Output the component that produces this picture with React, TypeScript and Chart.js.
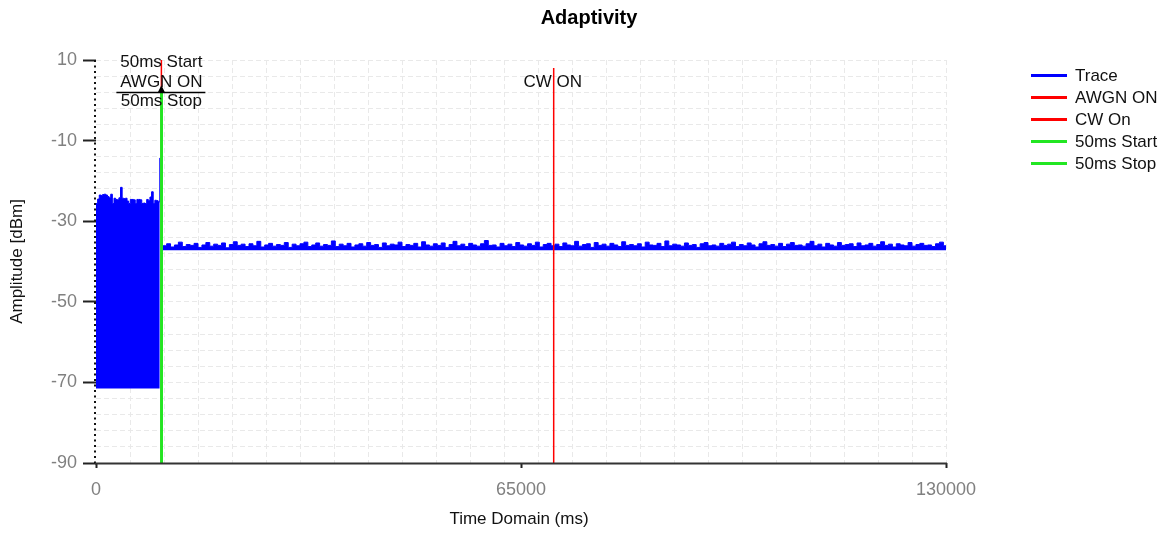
import React, { useEffect, useRef } from "react";
import { Chart, registerables } from "chart.js";

Chart.register(...registerables);

// ---------- text ----------
const TITLE = "Adaptivity";
const X_TITLE = "Time Domain (ms)";
const Y_TITLE = "Amplitude [dBm]";

// ---------- axes ----------
const X_MIN = 0;
const X_MAX = 130000;
const Y_MIN = -90;
const Y_MAX = 10;
const X_TICK_LABELS = [0, 65000, 130000];
const Y_TICK_LABELS = [10, -10, -30, -50, -70, -90];
const X_GRID_STEP_MS = 5200;
const Y_GRID_STEP_DBM = 4;

// ---------- trace ----------
const TRACE_LABEL = "Trace";
// before AWGN: dense trace, upper envelope (dBm) sampled every PRE_STEP_MS, bottom at PRE_FLOOR_DBM
const PRE_START_MS = 0;
const PRE_STEP_MS = 250;
const PRE_TOP_DBM = [
  -25.6, -24.5, -23.5, -23.6, -23.4, -23.3, -23.5, -23.9, -24.2, -23.3,
  -25.6, -24.3, -24.6, -24.7, -24.2, -21.6, -24.3, -24.4, -24.3, -25.0,
  -25.6, -24.6, -24.6, -24.7, -25.6, -24.6, -24.6, -24.7, -25.6, -25.5,
  -25.6, -24.6, -24.9, -24.0, -22.7, -25.6, -24.8, -24.9, -25.2, -14.3,
];
const PRE_FLOOR_DBM = -71.5;
// after AWGN: trace level (dBm) sampled every POST_STEP_MS, bottom at POST_FLOOR_DBM
const POST_START_MS = 10200;
const POST_STEP_MS = 600;
const POST_DBM = [
  -36.1, -35.6, -36.4, -35.9, -35.2, -36.3, -35.8, -36.0, -35.5, -36.5, -35.9, -35.3, -36.2, -35.7, -36.0, -35.4, -36.6, -35.8, -35.1, -36.0,
  -35.7, -36.3, -35.6, -36.1, -35.0, -36.4, -35.9, -35.5, -36.2, -35.8, -36.0, -35.3, -36.5, -35.7, -36.1, -35.6, -35.2, -36.3, -35.9, -35.4,
  -36.2, -35.8, -36.0, -34.9, -36.3, -35.7, -36.1, -35.5, -36.4, -35.9, -35.6, -36.2, -35.3, -36.0, -35.8, -36.5, -35.4, -36.1, -35.7, -35.9,
  -35.2, -36.3, -35.8, -36.0, -35.5, -36.4, -35.1, -35.9, -36.2, -35.6, -36.0, -35.4, -36.5, -35.8, -35.0, -36.1, -35.7, -36.3, -35.5, -35.9,
  -36.2, -35.6, -34.8, -36.0, -35.9, -36.4, -35.5, -36.1, -35.7, -36.3, -35.3, -35.9, -36.2, -35.6, -36.0, -35.2, -36.4, -35.8, -35.5, -36.1,
  -35.7, -36.3, -35.4, -35.9, -36.1, -35.0, -36.2, -35.8, -35.6, -36.5, -35.3, -36.0, -35.7, -36.2, -35.5, -35.9, -36.3, -35.1, -36.0, -35.8,
  -36.1, -35.6, -36.4, -35.2, -35.9, -36.0, -35.5, -36.3, -34.9, -36.1, -35.7, -35.9, -36.2, -35.4, -36.0, -35.8, -36.5, -35.6, -35.3, -36.1,
  -35.9, -36.2, -35.5, -36.0, -35.7, -35.2, -36.3, -35.8, -36.1, -35.4, -35.9, -36.4, -35.6, -35.1, -36.0, -35.8, -36.2, -35.5, -36.3, -35.7,
  -35.3, -36.0, -35.9, -36.2, -35.6, -35.0, -36.1, -35.7, -36.4, -35.5, -35.9, -36.2, -35.3, -36.0, -35.8, -35.6, -36.3, -35.4, -36.1, -35.9,
  -35.5, -36.2, -35.8, -35.1, -36.0, -35.7, -36.4, -35.6, -35.9, -36.1, -35.3, -36.2, -35.8, -35.5, -36.0, -35.9, -36.3, -35.6, -35.2, -36.1,
  -35.8,
];
const POST_FLOOR_DBM = -37.2;

// ---------- event markers ----------
const MARKER_LABELS = ["AWGN ON", "CW On", "50ms Start", "50ms Stop"];
const MARKER_MS = [10000, 70000, 10000, 10050];
const MARKER_TOP_DBM = [10, 8, 2, 2];
const ANNOT_START = "50ms Start";
const ANNOT_AWGN = "AWGN ON";
const ANNOT_STOP = "50ms Stop";
const ANNOT_CW = "CW ON";

// ---------- styles ----------
const BLUE = "#0000ff";
const RED = "#ff0000";
const GREEN = "#22e622";
const GRID = "#e9e9e9";
const TICK_TEXT = "#808080";
const FONT = "'Liberation Sans', Arial, sans-serif";

const W = 1169;
const H = 534;

const toXY = (start: number, step: number, vals: number[]) =>
  vals.map((v, i) => ({ x: start + i * step, y: v }));

const overlay = {
  id: "overlay",
  beforeDatasetsDraw(chart: any) {
    const { ctx, chartArea: ca, scales } = chart;
    const xs = scales.x;
    ctx.save();
    ctx.strokeStyle = GRID;
    ctx.lineWidth = 1;
    ctx.setLineDash([5, 3]);
    for (let v = X_MIN + X_GRID_STEP_MS; v <= X_MAX + 1; v += X_GRID_STEP_MS) {
      const px = Math.round(xs.getPixelForValue(v)) + 0.5;
      ctx.beginPath();
      ctx.moveTo(px, ca.top);
      ctx.lineTo(px, ca.bottom);
      ctx.stroke();
    }
    ctx.restore();
  },
  afterDatasetsDraw(chart: any) {
    const { ctx, chartArea: ca, scales } = chart;
    const xs = scales.x;
    const ys = scales.y;
    ctx.save();
    // dotted y axis
    ctx.strokeStyle = "#111";
    ctx.lineWidth = 2;
    ctx.setLineDash([2, 3.5]);
    ctx.beginPath();
    ctx.moveTo(ca.left - 1, ca.top);
    ctx.lineTo(ca.left - 1, ca.bottom);
    ctx.stroke();
    ctx.setLineDash([]);
    // solid x axis
    ctx.strokeStyle = "#333";
    ctx.lineWidth = 2;
    ctx.beginPath();
    ctx.moveTo(ca.left - 1, ca.bottom + 0.5);
    ctx.lineTo(ca.right + 1, ca.bottom + 0.5);
    ctx.stroke();

    // annotations
    const gx = xs.getPixelForValue(MARKER_MS[2]);
    const gy = ys.getPixelForValue(MARKER_TOP_DBM[2]);
    ctx.strokeStyle = "#000";
    ctx.lineWidth = 1.5;
    ctx.beginPath();
    ctx.moveTo(gx - 45, gy + 0.25);
    ctx.lineTo(gx + 44, gy + 0.25);
    ctx.stroke();
    ctx.fillStyle = "#000";
    ctx.beginPath();
    ctx.moveTo(gx, gy - 7);
    ctx.lineTo(gx - 3.5, gy);
    ctx.lineTo(gx + 3.5, gy);
    ctx.closePath();
    ctx.fill();

    ctx.font = `17px ${FONT}`;
    ctx.textAlign = "center";
    ctx.textBaseline = "middle";
    ctx.fillStyle = "#111";
    ctx.fillText(ANNOT_START, gx, gy - 30);
    ctx.fillText(ANNOT_AWGN, gx, gy - 10);
    ctx.fillText(ANNOT_STOP, gx, gy + 9);
    const cx = xs.getPixelForValue(MARKER_MS[1]);
    ctx.fillText(ANNOT_CW, cx - 1, gy - 10);
    ctx.restore();
  },
  afterDraw(chart: any) {
    const { ctx, chartArea: ca } = chart;
    ctx.save();
    ctx.fillStyle = "#000";
    ctx.textAlign = "center";
    ctx.textBaseline = "middle";
    ctx.font = `bold 20px ${FONT}`;
    ctx.fillText(TITLE, 589, 18);

    ctx.font = `17px ${FONT}`;
    ctx.fillStyle = "#111";
    ctx.fillText(X_TITLE, (ca.left + ca.right) / 2 - 2, 519);
    ctx.save();
    ctx.translate(17, (ca.top + ca.bottom) / 2);
    ctx.rotate(-Math.PI / 2);
    ctx.fillText(Y_TITLE, 0, 0);
    ctx.restore();

    // legend
    const items = [
      { label: TRACE_LABEL, color: BLUE },
      { label: MARKER_LABELS[0], color: RED },
      { label: MARKER_LABELS[1], color: RED },
      { label: MARKER_LABELS[2], color: GREEN },
      { label: MARKER_LABELS[3], color: GREEN },
    ];
    ctx.textAlign = "left";
    items.forEach((it, i) => {
      const y = 75 + i * 22;
      ctx.strokeStyle = it.color;
      ctx.lineWidth = 3;
      ctx.beginPath();
      ctx.moveTo(1031, y + 0.5);
      ctx.lineTo(1067, y + 0.5);
      ctx.stroke();
      ctx.fillStyle = "#111";
      ctx.fillText(it.label, 1075, y + 1);
    });
    ctx.restore();
  },
};

export default function App() {
  const ref = useRef<HTMLCanvasElement | null>(null);

  useEffect(() => {
    if (!ref.current) return;
    const markerDs = (i: number, color: string, width: number) => ({
      label: MARKER_LABELS[i],
      data: [
        { x: MARKER_MS[i], y: Y_MIN },
        { x: MARKER_MS[i], y: MARKER_TOP_DBM[i] },
      ],
      borderColor: color,
      backgroundColor: color,
      borderWidth: width,
      pointRadius: 0,
      fill: false,
    });
    const chart = new Chart(ref.current, {
      type: "line",
      data: {
        datasets: [
          markerDs(2, GREEN, 2.5),
          markerDs(3, GREEN, 2.5),
          markerDs(0, RED, 1.5),
          markerDs(1, RED, 1.5),
          {
            label: TRACE_LABEL,
            data: toXY(PRE_START_MS, PRE_STEP_MS, PRE_TOP_DBM),
            borderColor: BLUE,
            backgroundColor: BLUE,
            borderWidth: 1,
            pointRadius: 0,
            stepped: true,
            fill: { value: PRE_FLOOR_DBM },
          },
          {
            label: TRACE_LABEL,
            data: toXY(POST_START_MS, POST_STEP_MS, POST_DBM),
            borderColor: BLUE,
            backgroundColor: BLUE,
            borderWidth: 1,
            pointRadius: 0,
            stepped: true,
            fill: { value: POST_FLOOR_DBM },
          },
        ],
      } as any,
      options: {
        responsive: false,
        animation: false,
        events: [],
        layout: { padding: { left: 0, top: 60, right: W - 946, bottom: 0 } },
        plugins: {
          legend: { display: false },
          title: { display: false },
          tooltip: { enabled: false },
        },
        scales: {
          x: {
            type: "linear",
            min: X_MIN,
            max: X_MAX,
            afterBuildTicks: (s: any) => {
              s.ticks = X_TICK_LABELS.map((v) => ({ value: v }));
            },
            afterFit: (s: any) => {
              s.height = 71;
            },
            border: { display: false },
            grid: {
              drawOnChartArea: false,
              drawTicks: true,
              tickLength: 5,
              tickColor: "#222",
              tickWidth: 2,
            },
            ticks: {
              autoSkip: false,
              maxRotation: 0,
              padding: 11,
              color: TICK_TEXT,
              font: { family: FONT, size: 18 },
              callback: (v: any) => String(v),
            },
          },
          y: {
            type: "linear",
            min: Y_MIN,
            max: Y_MAX,
            afterBuildTicks: (s: any) => {
              const t = [];
              for (let v = Y_MIN; v <= Y_MAX + 0.001; v += Y_GRID_STEP_DBM) t.push({ value: v });
              s.ticks = t;
            },
            afterFit: (s: any) => {
              s.width = 96;
            },
            border: { display: false, dash: [5, 3] },
            grid: {
              color: GRID,
              lineWidth: 1,
              drawTicks: true,
              tickLength: 13,
              tickWidth: 2,
              tickColor: (c: any) =>
                c.tick && Y_TICK_LABELS.includes(c.tick.value) ? "#222" : "rgba(0,0,0,0)",
            },
            ticks: {
              autoSkip: false,
              padding: 6,
              color: TICK_TEXT,
              font: { family: FONT, size: 18 },
              callback: (v: any) => (Y_TICK_LABELS.includes(v) ? String(v) : ""),
            },
          },
        },
      } as any,
      plugins: [overlay],
    });
    return () => chart.destroy();
  }, []);

  return (
    <div style={{ position: "fixed", left: 0, top: 0, width: W, height: H, background: "#fff" }}>
      <canvas ref={ref} width={W} height={H} style={{ display: "block" }} />
    </div>
  );
}
